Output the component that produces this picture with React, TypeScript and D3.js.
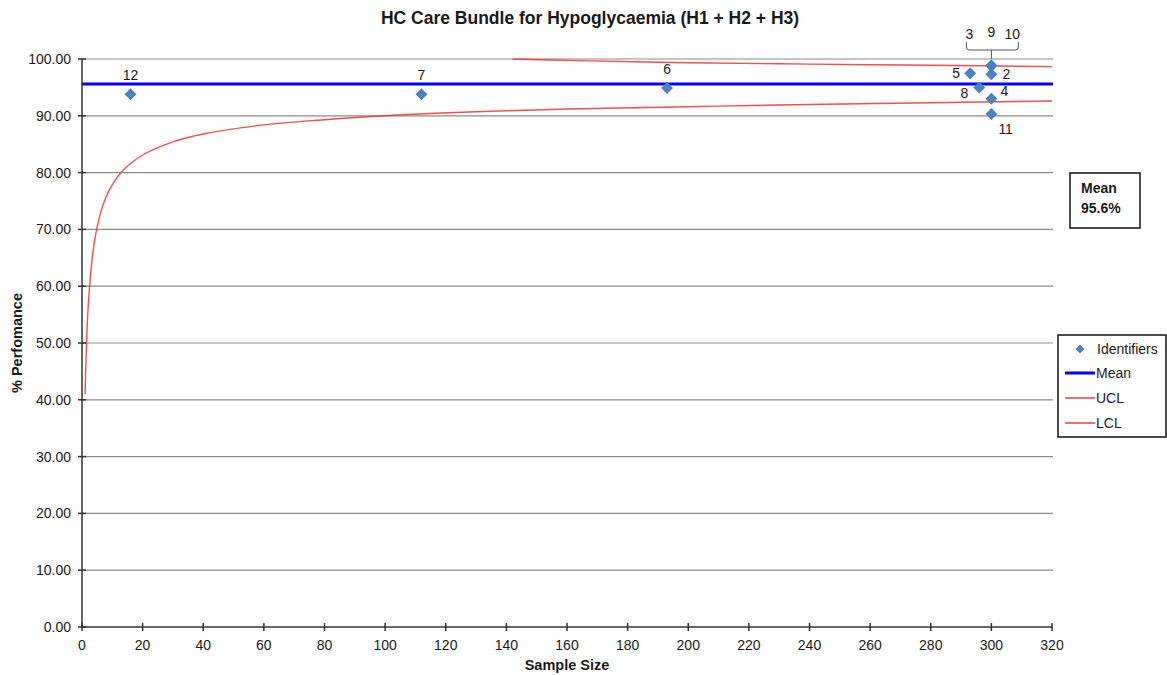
import React from "react";
import * as d3 from "d3";

// ---- data ----
const pointIds = ["12", "7", "6", "5", "8", "3", "9", "10", "2", "4", "11"];
const pointN = [16, 112, 193, 293, 296, 300, 300, 300, 300, 300, 300];
const pointPct = [93.8, 93.8, 94.9, 97.5, 95.0, 98.8, 98.8, 98.8, 97.3, 93.0, 90.3];
const meanValue = 95.6;

const lclN = [1, 1.5, 2, 3, 4, 6, 8, 10, 13, 16, 20, 30, 40, 60, 80, 100, 130, 160, 200, 240, 280, 320];
const lclPct = [41, 50, 56, 63, 67.5, 72.7, 75.8, 77.9, 80.1, 81.6, 83.1, 85.4, 86.8, 88.4, 89.3, 90.0, 90.7, 91.2, 91.6, 92.0, 92.3, 92.6];
const uclN = [142, 160, 200, 240, 280, 320];
const uclPct = [100.0, 99.75, 99.35, 99.1, 98.9, 98.65];

const xTicks = d3.range(0, 321, 20);
const yTicks = d3.range(0, 100.001, 10);

// label placement (styling only)
const labelOffsets: Record<string, [number, number, string] | null> = {
  "12": [0, -14, "middle"],
  "7": [0, -14, "middle"],
  "6": [0, -14, "middle"],
  "5": [-10, 5, "end"],
  "8": [-11, 11, "end"],
  "3": null,
  "9": null,
  "10": null,
  "2": [11, 5, "start"],
  "4": [9, -3, "start"],
  "11": [7, 20, "start"],
};

const FONT = "'Liberation Sans', Arial, sans-serif";
const TXT = "#1a1a1a";
const RED = "#ff2a2a";

export default function App() {
  const W = 1167, H = 675;
  const x = d3.scaleLinear().domain([0, 320]).range([82, 1052]);
  const y = d3.scaleLinear().domain([0, 100]).range([627, 59]);

  const lcl = d3
    .line<number>()
    .x((_, i) => x(lclN[i]))
    .y((d) => y(d))
    .curve(d3.curveCatmullRom.alpha(0.5))(lclPct);
  const ucl = d3
    .line<number>()
    .x((_, i) => x(uclN[i]))
    .y((d) => y(d))
    .curve(d3.curveCatmullRom.alpha(0.5))(uclPct);

  const diamond = (cx: number, cy: number, r = 6) =>
    `M${cx},${cy - r}L${cx + r},${cy}L${cx},${cy + r}L${cx - r},${cy}Z`;

  const bx = x(300);
  const by = y(98.8);

  return (
    <svg width={W} height={H} style={{ position: "absolute", left: 0, top: 0, background: "#fff" }} fontFamily={FONT}>
      <rect x={0} y={0} width={W} height={H} fill="#fff" />
      <text x={590} y={24} textAnchor="middle" fontSize={17.5} fontWeight="bold" fill={TXT}>
        HC Care Bundle for Hypoglycaemia (H1 + H2 + H3)
      </text>

      {/* gridlines */}
      {yTicks.filter((t) => t > 0).map((t) => (
        <line key={t} x1={82} x2={1053} y1={y(t)} y2={y(t)} stroke="#8c8c8c" strokeWidth={1.2} />
      ))}

      {/* control limits */}
      <path d={lcl || ""} fill="none" stroke={RED} strokeWidth={1.4} strokeOpacity={0.85} />
      <path d={ucl || ""} fill="none" stroke={RED} strokeWidth={1.4} strokeOpacity={0.85} />

      {/* mean */}
      <line x1={82} x2={1053} y1={y(meanValue)} y2={y(meanValue)} stroke="#0000ff" strokeWidth={3} />

      {/* axes */}
      <line x1={82} x2={82} y1={59} y2={627} stroke="#333" strokeWidth={1.5} />
      <line x1={82} x2={1052} y1={627} y2={627} stroke="#333" strokeWidth={1.5} />
      {yTicks.map((t) => (
        <g key={t}>
          <line x1={78} x2={86} y1={y(t)} y2={y(t)} stroke="#333" strokeWidth={1.5} />
          <text x={71} y={y(t) + 5} textAnchor="end" fontSize={14} fill={TXT}>
            {t.toFixed(2)}
          </text>
        </g>
      ))}
      {xTicks.map((t) => (
        <g key={t}>
          <line x1={x(t)} x2={x(t)} y1={623} y2={631} stroke="#333" strokeWidth={1.5} />
          <text x={x(t)} y={650} textAnchor="middle" fontSize={14} fill={TXT}>
            {t}
          </text>
        </g>
      ))}
      <text x={567} y={670} textAnchor="middle" fontSize={14.5} fontWeight="bold" fill={TXT}>
        Sample Size
      </text>
      <text
        transform={`translate(22,343) rotate(-90)`}
        textAnchor="middle"
        fontSize={14.5}
        fontWeight="bold"
        fill={TXT}
      >
        % Perfomance
      </text>

      {/* points */}
      {pointIds.map((id, i) => (
        <path key={id} d={diamond(x(pointN[i]), y(pointPct[i]))} fill="#4f81bd" />
      ))}
      {pointIds.map((id, i) => {
        const o = labelOffsets[id];
        if (!o) return null;
        return (
          <text
            key={"l" + id}
            x={x(pointN[i]) + o[0]}
            y={y(pointPct[i]) + o[1]}
            textAnchor={o[2] as any}
            fontSize={14}
            fill={TXT}
          >
            {id}
          </text>
        );
      })}

      {/* bracket for 3, 9, 10 */}
      <path
        d={`M${bx - 25},42 L${bx - 25},47 Q${bx - 25},50 ${bx - 22},50 L${bx + 24},50 Q${bx + 27},50 ${bx + 27},47 L${bx + 27},42 M${bx},50 L${bx},${by - 7}`}
        fill="none"
        stroke="#555"
        strokeWidth={1}
      />
      <text x={bx - 22} y={39} textAnchor="middle" fontSize={14} fill={TXT}>3</text>
      <text x={bx} y={37} textAnchor="middle" fontSize={14} fill={TXT}>9</text>
      <text x={bx + 21} y={39} textAnchor="middle" fontSize={14} fill={TXT}>10</text>

      {/* mean box */}
      <rect x={1070} y={173} width={70} height={55} fill="#fff" stroke="#111" strokeWidth={1.5} />
      <text x={1081} y={193} fontSize={14} fontWeight="bold" fill={TXT}>Mean</text>
      <text x={1081} y={213} fontSize={14} fontWeight="bold" fill={TXT}>95.6%</text>

      {/* legend */}
      <rect x={1058} y={335} width={108} height={102} fill="#fff" stroke="#111" strokeWidth={1.5} />
      <path d={diamond(1080, 349, 4.5)} fill="#4f81bd" />
      <text x={1097} y={354} fontSize={14} fill={TXT}>Identifiers</text>
      <line x1={1065} x2={1095} y1={373} y2={373} stroke="#0000ff" strokeWidth={3} />
      <text x={1096} y={378} fontSize={14} fill={TXT}>Mean</text>
      <line x1={1065} x2={1095} y1={398} y2={398} stroke={RED} strokeWidth={1.4} />
      <text x={1096} y={403} fontSize={14} fill={TXT}>UCL</text>
      <line x1={1065} x2={1095} y1={423} y2={423} stroke={RED} strokeWidth={1.4} />
      <text x={1096} y={428} fontSize={14} fill={TXT}>LCL</text>
    </svg>
  );
}
